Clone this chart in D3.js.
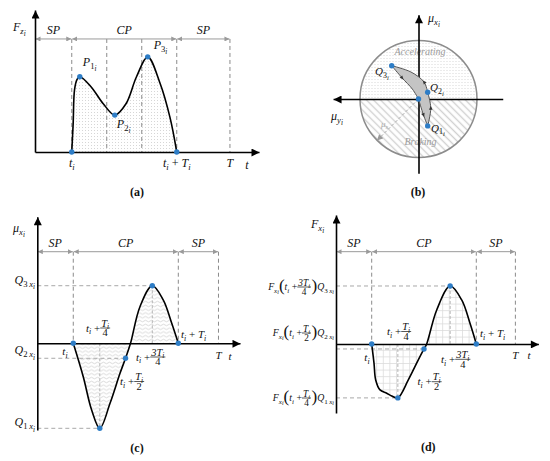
<!DOCTYPE html>
<html><head><meta charset="utf-8">
<script src="https://cdn.jsdelivr.net/npm/d3@7"></script>
<style>body{margin:0;background:#fff}svg{display:block}</style>
</head><body>
<svg id="c" width="550" height="461"></svg>
<script>
// ================= DATA =================
// (a) vertical force F_z over time (time units, force units)
const aCurve = [[1.05,0],[1.09,2.0],[1.13,4.4],[1.20,5.1],[1.28,5.3],[1.6,4.6],[1.95,3.4],[2.28,2.6],[2.6,3.4],[2.9,5.3],[3.22,6.7],[3.57,4.86],[3.86,2.4],[4.05,0]];
const aPeaks = [[1.28,5.3],[2.28,2.6],[3.22,6.7]];      // P1, P2, P3
const aMarks = [1.05, 2.05, 3.05, 4.05, 5.57];         // t_i, thirds, t_i+T_i, T
const aPhaseBounds = [0, 1.05, 4.05, 5.57];
const phaseNames = ["SP","CP","SP"];
const aRow = 7.96;

// (b) friction ellipse loop (mu_y, mu_x)
const bLoop = [[0,0],[-0.085,-0.274],[-0.157,-0.46],[-0.21,-0.154],[-0.157,0.115],[-0.095,0.29],[0.13,0.462],[0.458,0.569],[0.28,0.36],[0.105,0.17]];
const bSegments = [[0,1,2],[2,3,4],[4,5,6,7],[7,8,9,0]];
const bPoints = [0,2,4,7];                              // center, Q1, Q2, Q3
const bMuS = [0.71,-0.71];

// (c) longitudinal friction mu_x over time
const cCurve = [[1.37,0],[1.75,-0.393],[2.07,-0.785],[2.38,-1.0],[2.77,-0.706],[3.15,-0.353],[3.36,-0.176],[3.55,0],[3.91,0.431],[4.38,0.678],[4.8,0.509],[5.12,0.235],[5.37,0]];
const cQ = [[2.38,-1.0],[3.36,-0.176],[4.38,0.678]];   // Q1, Q2, Q3
const cMarks = [1.37, 5.37, 6.9];
const cPhaseBounds = [0, 1.37, 5.37, 6.9];
const cRow = 1.078;

// (d) longitudinal force F_x over time
const dCurve = [[1.365,0],[1.453,-0.357],[1.518,-0.667],[1.683,-0.852],[1.939,-0.913],[2.13,-0.963],[2.365,-1.0],[2.765,-0.667],[3.147,-0.296],[3.365,-0.093],[3.468,0],[3.851,0.63],[4.365,1.074],[4.807,0.815],[5.124,0.383],[5.365,0]];
const dQ = [[2.365,-1.0],[3.365,-0.093],[4.365,1.074]];
const dMarks = [1.365, 5.365, 6.86];
const dPhaseBounds = [0, 1.365, 5.365, 6.86];
const dRow = 1.71;

// ================= SETUP =================
const FONT = "'Liberation Serif','DejaVu Serif',serif";
const BLUE = "#2e7dc6";
const svg = d3.select("#c");
svg.append("rect").attr("width",550).attr("height",461).attr("fill","#fff");
const defs = svg.append("defs");
function marker(id,color,w,h){
  defs.append("marker").attr("id",id).attr("viewBox","0 0 10 10").attr("refX",10).attr("refY",5)
   .attr("markerWidth",w).attr("markerHeight",h).attr("markerUnits","userSpaceOnUse")
   .attr("orient","auto-start-reverse").append("path").attr("d","M0,0L10,5L0,10Z").attr("fill",color);
}
marker("ak","#000",9,8); marker("ag","#9a9a9a",5,5); marker("as","#9a9a9a",7,6);

const pDots = defs.append("pattern").attr("id","dots").attr("width",3).attr("height",3).attr("patternUnits","userSpaceOnUse");
pDots.append("rect").attr("x",1).attr("y",1).attr("width",1).attr("height",1).attr("fill","#d6d6d6");
const pH = defs.append("pattern").attr("id","hatch").attr("width",5).attr("height",5).attr("patternUnits","userSpaceOnUse").attr("patternTransform","rotate(-45)");
pH.append("line").attr("x1",2.5).attr("x2",2.5).attr("y1",0).attr("y2",5).attr("stroke","#d0d0d0").attr("stroke-width",1.4);
const pW = defs.append("pattern").attr("id","wave").attr("width",6).attr("height",3.8).attr("patternUnits","userSpaceOnUse");
pW.append("path").attr("d","M0,1.9 Q1.5,0.4 3,1.9 T6,1.9").attr("fill","none").attr("stroke","#d0d0d0").attr("stroke-width",0.8);
const pG = defs.append("pattern").attr("id","grid").attr("width",6.6).attr("height",6.6).attr("patternUnits","userSpaceOnUse");
pG.append("path").attr("d","M0,0.4H6.6M0.4,0V6.6").attr("fill","none").attr("stroke","#dadada").attr("stroke-width",0.8);

const SC=[1,0.72,0.6,0.52], OFF=[0,0.26,0.44,0.56];
function mt(g,x,y,segs,o={}){
  const size=o.size||12;
  const t=g.append("text").attr("x",x).attr("y",y).attr("font-family",FONT).attr("font-size",size)
    .attr("text-anchor",o.anchor||"start").attr("fill",o.fill||"#111");
  if(o.weight) t.attr("font-weight",o.weight);
  let prev=0;
  segs.forEach(([s,l])=>{
    const ts=t.append("tspan").text(s).attr("font-size",size*SC[l]).attr("dy",((OFF[l]-OFF[prev])*size).toFixed(2));
    ts.attr("font-style", (o.upright||/^[0-9+()\s\u2009]+$/.test(s))?"normal":"italic");
    prev=l;
  });
  return t;
}
function expr(g,x,yl,items,size,anchor){
  const eg=g.append("g");
  let cx=0;
  items.forEach(it=>{
    if(it.r){ const t=mt(eg,cx,yl+0.32*size,it.r,{size}); cx+=t.node().getComputedTextLength(); }
    else if(it.p){ const ps=size*1.75; const t=eg.append("text").attr("x",cx).attr("y",yl+0.24*ps).attr("font-family",FONT)
        .attr("font-size",ps).attr("fill","#111").text(it.p); cx+=t.node().getComputedTextLength(); }
    else if(it.f){
      const fs=size*0.95;
      const n=mt(eg,0,yl-1.5,it.f[0],{size:fs,anchor:"middle"});
      const d=mt(eg,0,yl+1.5+0.66*fs,it.f[1],{size:fs,anchor:"middle"});
      const w=Math.max(n.node().getComputedTextLength(),d.node().getComputedTextLength())+2;
      n.attr("x",cx+w/2); d.attr("x",cx+w/2);
      eg.append("line").attr("x1",cx).attr("x2",cx+w).attr("y1",yl).attr("y2",yl).attr("stroke","#111").attr("stroke-width",0.7);
      cx+=w+0.5;
    }
  });
  eg.attr("transform",`translate(${anchor==="end"?x-cx:x},0)`);
  return eg;
}
function styleAxis(g){
  g.select(".domain").attr("stroke","#000").attr("stroke-width",1.6).attr("marker-end","url(#ak)");
}
const crv = d3.curveCatmullRom.alpha(0.5);
function dashed(g,x1,y1,x2,y2,color,dash){
  g.append("line").attr("x1",x1).attr("y1",y1).attr("x2",x2).attr("y2",y2)
   .attr("stroke",color||"#8a8a8a").attr("stroke-width",1).attr("stroke-dasharray",dash||"4,3");
}
function phaseRow(g,xs,ys,bounds,row){
  for(let i=0;i<bounds.length-1;i++){
    g.append("line").attr("x1",xs(bounds[i])+0.5).attr("x2",xs(bounds[i+1])-0.5).attr("y1",ys(row)).attr("y2",ys(row))
     .attr("stroke","#9a9a9a").attr("stroke-width",1).attr("marker-start","url(#ag)").attr("marker-end","url(#ag)");
    mt(g,(xs(bounds[i])+xs(bounds[i+1]))/2,ys(row)-5,[[phaseNames[i],0]],{anchor:"middle",size:12});
  }
}
function dot(g,x,y){ g.append("circle").attr("cx",x).attr("cy",y).attr("r",2.7).attr("fill",BLUE); }

// ================= PANEL (a) =================
{
  const xA=d3.scaleLinear([0,6.4],[35,259]), yA=d3.scaleLinear([0,10],[152,10]);
  const g=svg.append("g");
  g.append("path").attr("d",d3.area().x(d=>xA(d[0])).y0(yA(0)).y1(d=>yA(d[1])).curve(crv)(aCurve)).attr("fill","url(#dots)");
  aMarks.forEach(m=>dashed(g,xA(m),yA(aRow),xA(m),yA(0)));
  phaseRow(g,xA,yA,aPhaseBounds,aRow);
  g.append("path").attr("d",d3.line().x(d=>xA(d[0])).y(d=>yA(d[1])).curve(crv)(aCurve)).attr("fill","none").attr("stroke","#000").attr("stroke-width",1.6);
  g.append("g").attr("transform",`translate(0,${yA(0)})`).call(d3.axisBottom(xA).tickValues([]).tickSizeOuter(0)).call(styleAxis);
  g.append("g").attr("transform",`translate(${xA(0)},0)`).call(d3.axisLeft(yA).tickValues([]).tickSizeOuter(0)).call(styleAxis);
  dot(g,xA(aMarks[0]),yA(0)); dot(g,xA(aMarks[3]),yA(0));
  aPeaks.forEach(p=>dot(g,xA(p[0]),yA(p[1])));
  const off=[[3,-11],[2,13],[6,-8]];
  aPeaks.forEach((p,i)=>mt(g,xA(p[0])+off[i][0],yA(p[1])+off[i][1],[["P",0],[String(i+1),1],["i",2]],{size:12}));
  mt(g,13,31,[["F",0],["z",1],["i",2]],{size:12});
  mt(g,xA(aMarks[0]),167,[["t",0],["i",1]],{anchor:"middle",size:12});
  mt(g,xA(aMarks[3]),167,[["t",0],["i",1],[" + ",0],["T",0],["i",1]],{anchor:"middle",size:12});
  mt(g,xA(aMarks[4]),167,[["T",0]],{anchor:"middle",size:12});
  mt(g,247,169,[["t",0]],{anchor:"middle",size:12});
  mt(g,137,196,[["(a)",0]],{anchor:"middle",size:12,weight:"bold",upright:true});
}

// ================= PANEL (b) =================
{
  const xB=d3.scaleLinear([1,-1],[360,477]), yB=d3.scaleLinear([-1,1],[157.5,40.5]);
  const g=svg.append("g");
  const cx=xB(0), cy=yB(0), R=xB(-1)-xB(0);
  const arc=d3.arc().innerRadius(0).outerRadius(R);
  g.append("path").attr("transform",`translate(${cx},${cy})`).attr("d",arc({startAngle:-Math.PI/2,endAngle:Math.PI/2})).attr("fill","url(#dots)");
  g.append("path").attr("transform",`translate(${cx},${cy})`).attr("d",arc({startAngle:Math.PI/2,endAngle:Math.PI*1.5})).attr("fill","url(#hatch)");
  g.append("circle").attr("cx",cx).attr("cy",cy).attr("r",R).attr("fill","none").attr("stroke","#8c8c8c").attr("stroke-width",1.5);
  mt(g,420,55,[["Accelerating",0]],{anchor:"middle",size:10,fill:"#9a9a9a"});
  mt(g,420.5,145,[["Braking",0]],{anchor:"middle",size:10,fill:"#9a9a9a"});
  g.append("line").attr("x1",cx).attr("y1",cy).attr("x2",xB(bMuS[0])).attr("y2",yB(bMuS[1]))
   .attr("stroke","#aaa").attr("stroke-width",1).attr("stroke-dasharray","3,2").attr("marker-end","url(#as)");
  mt(g,381,127,[["μ",0],["s",1]],{size:9,fill:"#aaa"});
  const yAx=d3.scaleLinear([-1.27,1.44],[yB(-1.27),yB(1.44)]);
  const xAx=d3.scaleLinear([-1.44,1.46],[xB(-1.44),xB(1.46)]);
  g.append("g").attr("transform",`translate(${cx},0)`).call(d3.axisLeft(yAx).tickValues([]).tickSizeOuter(0)).call(styleAxis);
  g.append("g").attr("transform",`translate(0,${cy})`).call(d3.axisBottom(xAx).tickValues([]).tickSizeOuter(0)).call(styleAxis);
  const ln=d3.line().x(d=>xB(d[0])).y(d=>yB(d[1])).curve(crv);
  let dstr="";
  bSegments.forEach((s,i)=>{ const p=ln(s.map(k=>bLoop[k])); dstr+= i===0?p:p.replace(/^M/,"L"); });
  g.append("path").attr("d",dstr+"Z").attr("fill","#c4c4c4").attr("stroke","#555").attr("stroke-width",1);
  bSegments.forEach(s=>{
    const m=s[1], a=bLoop[s[0]], b=bLoop[s[2]], p=bLoop[m];
    const ang=Math.atan2(yB(b[1])-yB(a[1]),xB(b[0])-xB(a[0]))*180/Math.PI;
    g.append("path").attr("d","M2,0L-1.8,-1.8L-1.8,1.8Z").attr("fill","#333")
     .attr("transform",`translate(${xB(p[0])},${yB(p[1])}) rotate(${ang})`);
  });
  bPoints.forEach(k=>dot(g,xB(bLoop[k][0]),yB(bLoop[k][1])));
  mt(g,428,22,[["μ",0],["x",1],["i",2]],{size:12});
  mt(g,331,120,[["μ",0],["y",1],["i",2]],{size:12});
  mt(g,375,75,[["Q",0],["3",1],["i",2]],{size:11});
  mt(g,430,91,[["Q",0],["2",1],["i",2]],{size:11});
  mt(g,431,131.5,[["Q",0],["1",1],["i",2]],{size:11});
  mt(g,418,196,[["(b)",0]],{anchor:"middle",size:12,weight:"bold",upright:true});
}

// ================= PANELS (c) and (d) =================
function signalPanel(xS,yS,curve,Q,marks,bounds,row,pattern){
  const g=svg.append("g");
  g.append("path").attr("d",d3.area().x(d=>xS(d[0])).y0(yS(0)).y1(d=>yS(d[1])).curve(crv)(curve)).attr("fill",`url(#${pattern})`);
  [Q[0],Q[2]].forEach(q=>dashed(g,xS(q[0]),yS(0),xS(q[0]),yS(q[1]),"#b4b4b4","3,2"));
  Q.forEach(q=>dashed(g,xS(0),yS(q[1]),xS(q[0]),yS(q[1]),"#a8a8a8","4,3"));
  marks.forEach(m=>dashed(g,xS(m),yS(row),xS(m),yS(0)));
  phaseRow(g,xS,yS,bounds,row);
  g.append("path").attr("d",d3.line().x(d=>xS(d[0])).y(d=>yS(d[1])).curve(crv)(curve)).attr("fill","none").attr("stroke","#000").attr("stroke-width",1.6);
  g.append("g").attr("transform",`translate(0,${yS(0)})`).call(d3.axisBottom(xS).tickValues([]).tickSizeOuter(0)).call(styleAxis);
  g.append("g").attr("transform",`translate(${xS(0)},0)`).call(d3.axisLeft(yS).tickValues([]).tickSizeOuter(0)).call(styleAxis);
  dot(g,xS(marks[0]),yS(0)); dot(g,xS(marks[1]),yS(0));
  Q.forEach(q=>dot(g,xS(q[0]),yS(q[1])));
  return g;
}
const TI=[["t",0],["i",1],[" + ",0]];
{
  const xC=d3.scaleLinear([0,7.72],[37.3,240]), yC=d3.scaleLinear([-1.02,1.49],[430,216.7]);
  const g=signalPanel(xC,yC,cCurve,cQ,cMarks,cPhaseBounds,cRow,"wave");
  mt(g,13,232,[["μ",0],["x",1],["i",2]],{size:12});
  const qoff=[-2,-4,-2];
  cQ.forEach((q,i)=>mt(g,35,yC(q[1])+qoff[i],[["Q",0],[String(i+1),1],["\u2009x",1],["i",2]],{anchor:"end",size:12}));
  mt(g,65,355,[["t",0],["i",1]],{anchor:"middle",size:11});
  expr(g,86,328,[{r:TI},{f:[[["T",0],["i",1]],[["4",0]]]}],11);
  expr(g,136,357,[{r:TI},{f:[[["3T",0],["i",1]],[["4",0]]]}],11);
  expr(g,120,381.5,[{r:TI},{f:[[["T",0],["i",1]],[["2",0]]]}],11);
  mt(g,181,338,[["t",0],["i",1],[" + ",0],["T",0],["i",1]],{size:11});
  mt(g,xC(cMarks[2]),359,[["T",0]],{anchor:"middle",size:11});
  mt(g,230,360,[["t",0]],{anchor:"middle",size:11});
  mt(g,137,452,[["(c)",0]],{anchor:"middle",size:12,weight:"bold",upright:true});
}
{
  const xD=d3.scaleLinear([0,7.74],[336,538.4]), yD=d3.scaleLinear([-1.28,2.39],[413,215]);
  const g=signalPanel(xD,yD,dCurve,dQ,dMarks,dPhaseBounds,dRow,"grid");
  mt(g,311,228,[["F",0],["x",1],["i",2]],{size:12});
  const FX=[["F",0],["x",1],["i",2]];
  const fr=[[[["T",0],["i",1]],[["4",0]]],[[["T",0],["i",1]],[["2",0]]],[[["3T",0],["i",1]],[["4",0]]]];
  const ly=[398,333,287];
  [0,1,2].forEach(i=>expr(g,334,ly[i],[{r:FX},{p:"("},{r:TI},{f:fr[i]},{p:")"},{r:[["Q",0],[String(i+1),1],["\u2009x",1],["i",2]]}],9.8,"end"));
  mt(g,367,361,[["t",0],["i",1]],{anchor:"middle",size:11});
  expr(g,387,331.5,[{r:TI},{f:[[["T",0],["i",1]],[["4",0]]]}],11);
  expr(g,441,359.3,[{r:TI},{f:[[["3T",0],["i",1]],[["4",0]]]}],11);
  expr(g,417.5,381.7,[{r:TI},{f:[[["T",0],["i",1]],[["2",0]]]}],11);
  mt(g,480,337,[["t",0],["i",1],[" + ",0],["T",0],["i",1]],{size:11});
  mt(g,xD(dMarks[2]),359,[["T",0]],{anchor:"middle",size:11});
  mt(g,529,359,[["t",0]],{anchor:"middle",size:11});
  mt(g,428.3,451,[["(d)",0]],{anchor:"middle",size:12,weight:"bold",upright:true});
}
</script>
</body></html>
